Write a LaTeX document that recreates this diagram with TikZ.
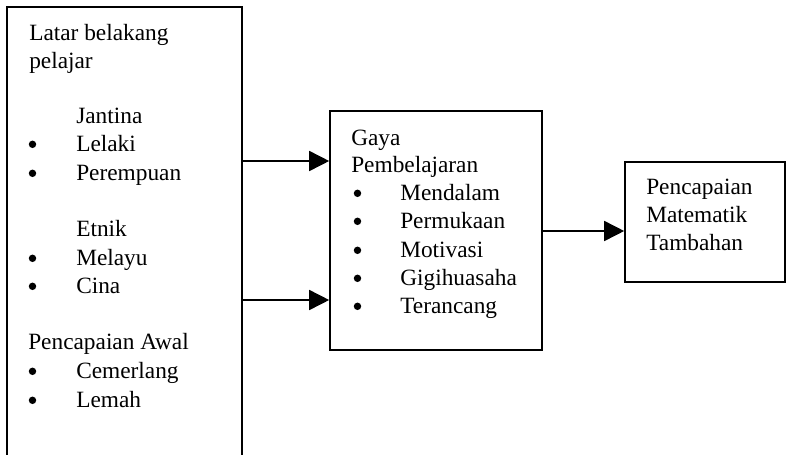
\documentclass[tikz,border=0pt]{standalone}
\usepackage{fontspec}
\setmainfont{Liberation Serif}
\usetikzlibrary{arrows.meta,fit}
\tikzset{
  box/.style={draw, line width=1.2pt, inner sep=0pt},
  txt/.style={anchor=base west, inner sep=0pt, font=\fontsize{17.5pt}{21pt}\selectfont},
  dot/.style={circle, fill, inner sep=0pt, minimum size=5.6pt},
  arr/.style={line width=1.2pt, -{Triangle[length=15pt,width=15pt]}}
}
\begin{document}
\begin{tikzpicture}[x=0.75pt,y=-0.75pt]
\useasboundingbox (0,0) rectangle (786,454);
\clip (0,0) rectangle (786,454);
% boxes
\node[box, fit={(7,7) (242,480)}] (left) {};
\node[box, fit={(330,111) (542,350)}] (mid) {};
\node[box, fit={(625,162) (785,282)}] (right) {};
% left box text
\node[txt] (lt1) at (29,40) {Latar belakang};
\node[txt] (lt2) at (29,68) {pelajar};
\node[txt] (lt3) at (76,123) {Jantina};
\node[txt] (lt4) at (76,151) {Lelaki};
\node[txt] (lt5) at (76,180) {Perempuan};
\node[txt] (lt6) at (76,236) {Etnik};
\node[txt] (lt7) at (76,265) {Melayu};
\node[txt] (lt8) at (76,293) {Cina};
\node[txt] (lt9) at (28,349) {Pencapaian Awal};
\node[txt] (lt10) at (76,378) {Cemerlang};
\node[txt] (lt11) at (76,407) {Lemah};
\foreach \y [count=\i] in {151,180,265,293,378,407}
  \node[dot] (lb\i) at (32.5,\y-6.7) {};
% middle box text
\node[txt] (mt1) at (351,145) {Gaya};
\node[txt] (mt2) at (351,172) {Pembelajaran};
\node[txt] (mt3) at (400,200) {Mendalam};
\node[txt] (mt4) at (400,228) {Permukaan};
\node[txt] (mt5) at (400,257) {Motivasi};
\node[txt] (mt6) at (400,285) {Gigihuasaha};
\node[txt] (mt7) at (400,313) {Terancang};
\foreach \y [count=\i] in {200,228,257,285,313}
  \node[dot] (mb\i) at (357.5,\y-6.7) {};
% right box text
\node[txt] (rt1) at (646,194) {Pencapaian};
\node[txt] (rt2) at (646,222) {Matematik};
\node[txt] (rt3) at (646,250) {Tambahan};
% connectors
\draw[arr] (left.east |- 0,161) -- (mid.west |- 0,161);
\draw[arr] (left.east |- 0,300) -- (mid.west |- 0,300);
\draw[arr] (mid.east |- 0,231) -- (right.west |- 0,231);
\end{tikzpicture}
\end{document}
